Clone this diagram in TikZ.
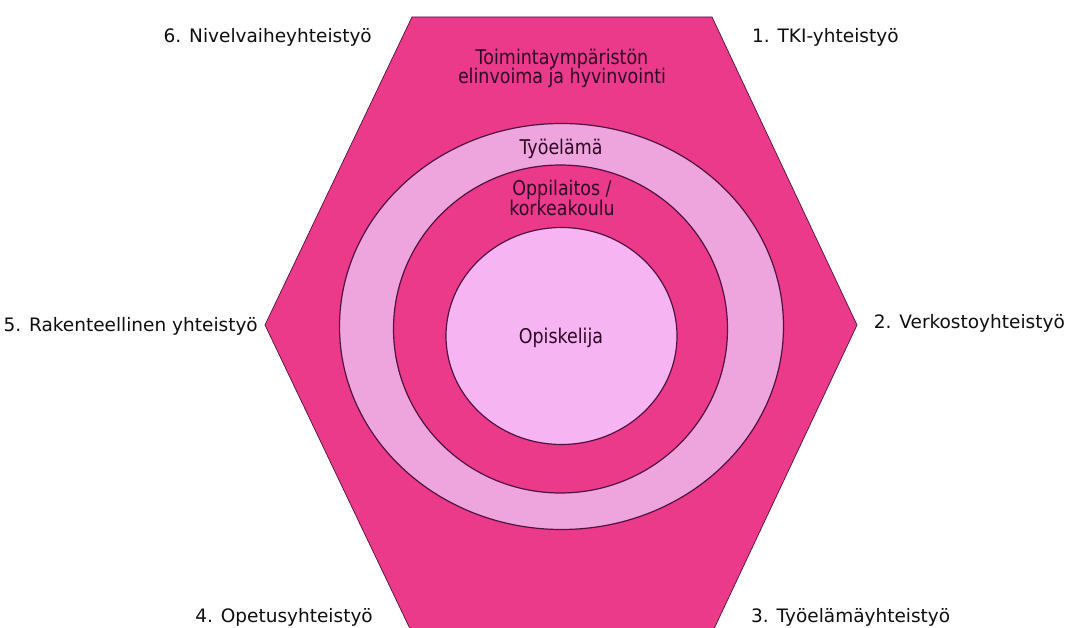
\documentclass[tikz,border=0pt]{standalone}
\usepackage{fontspec}
\setmainfont{DejaVu Sans}
\newfontfamily\innerfont[FakeStretch=0.86]{DejaVu Sans}
\usetikzlibrary{shapes.geometric}
\definecolor{hexpink}{RGB}{236,58,139}
\definecolor{bandpink}{RGB}{238,165,222}
\definecolor{corepink}{RGB}{247,180,243}
\definecolor{edgepurple}{RGB}{80,18,62}
\definecolor{outertext}{RGB}{15,15,15}
\definecolor{innertext}{RGB}{45,8,36}
\tikzset{
  ring/.style={ellipse, draw=edgepurple, line width=1.2pt, inner sep=0pt},
  outerlabel/.style={font=\fontsize{18.5}{22}\selectfont, text=outertext, inner sep=0pt},
  innerlabel/.style={font=\innerfont\fontsize{20.3}{20}\selectfont, text=innertext, inner sep=0pt, align=center},
}
\begin{document}
\begin{tikzpicture}[x=1pt,y=-1pt]
\useasboundingbox (0,0) rectangle (1068,628);
\clip (0,0) rectangle (1068,628);
\fill[white] (0,0) rectangle (1068,628);
% hexagon
\coordinate (h1) at (412,17);
\coordinate (h2) at (712,17);
\coordinate (h3) at (857,325);
\coordinate (h4) at (712,633);
\coordinate (h5) at (412,633);
\coordinate (h6) at (265,325);
\draw[fill=hexpink, draw=edgepurple, line width=0.7pt] (h1) -- (h2) -- (h3) -- (h4) -- (h5) -- (h6) -- cycle;
% rings
\node[ring, fill=bandpink, minimum width=444pt, minimum height=406pt] (work) at (561.5,326.5) {};
\node[ring, fill=hexpink, minimum width=334pt, minimum height=328pt] (school) at (560.5,329) {};
\node[ring, fill=corepink, minimum width=231pt, minimum height=217pt] (student) at (561.5,336) {};
% inner texts
\node[innerlabel, anchor=base] (env1) at (562,65) {Toimintaympäristön};
\node[innerlabel, anchor=base] (env2) at (562,84) {elinvoima ja hyvinvointi};
\node[innerlabel, anchor=base] (worklbl) at (561,155) {Työelämä};
\node[innerlabel, anchor=base] (sch1) at (562,196) {Oppilaitos /};
\node[innerlabel, anchor=base] (sch2) at (562,216) {korkeakoulu};
\node[innerlabel, anchor=base] (stud) at (561,343) {Opiskelija};
% outer labels
\node[outerlabel, anchor=base east] (l6) at (372,43) {6. Nivelvaiheyhteistyö};
\node[outerlabel, anchor=base west] (l1) at (752,43) {1. TKI-yhteistyö};
\node[outerlabel, anchor=base east] (l5) at (258,331) {5. Rakenteellinen yhteistyö};
\node[outerlabel, anchor=base east] (l2) at (1065,328) {2. Verkostoyhteistyö};
\node[outerlabel, anchor=base east] (l4) at (373,622) {4. Opetusyhteistyö};
\node[outerlabel, anchor=base west] (l3) at (751,622) {3. Työelämäyhteistyö};
\end{tikzpicture}
\end{document}
